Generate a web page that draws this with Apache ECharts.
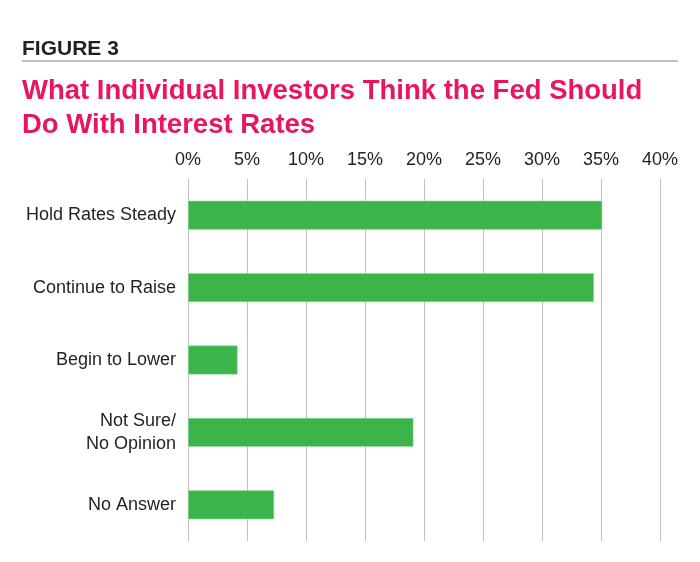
<!DOCTYPE html>
<html>
<head>
<meta charset="utf-8">
<script src="https://cdn.jsdelivr.net/npm/echarts@6/dist/echarts.min.js"></script>
<style>
  html, body { margin: 0; padding: 0; background: #fff; }
  #chart { width: 700px; height: 562px; }
</style>
</head>
<body>
<div id="chart"></div>
<script>
// Figure 3 — horizontal bar chart of Fed rate expectations

const categories = ['Hold Rates Steady', 'Continue to Raise', 'Begin to Lower', 'Not Sure/\nNo Opinion', 'No Answer'];
const values = [35.1, 34.4, 4.2, 19.1, 7.3];

const FONT = '"Liberation Sans Narrow", "Arial Narrow", "Liberation Sans", Arial, sans-serif';

const chart = echarts.init(document.getElementById('chart'));

const option = {
    animation: false,
    backgroundColor: '#fff',
    title: [
        {
            text: 'FIGURE 3',
            left: 22,
            top: 39,
            padding: 0,
            textStyle: { fontFamily: FONT, fontSize: 21, fontWeight: 'bold', color: '#231f20' }
        },
        {
            text: 'What Individual Investors Think the Fed Should\nDo With Interest Rates',
            left: 22,
            top: 74,
            padding: 0,
            textStyle: { fontFamily: FONT, fontSize: 27.5, fontWeight: 'bold', color: '#e8175d', lineHeight: 34 }
        }
    ],
    graphic: [
        {
            type: 'line',
            shape: { x1: 22, y1: 61, x2: 678, y2: 61 },
            style: { stroke: '#a7a9ac', lineWidth: 1.5 }
        }
    ],
    grid: { left: 188, right: 40, top: 179, bottom: 21, containLabel: false },
    xAxis: {
        type: 'value',
        position: 'top',
        min: 0,
        max: 40,
        interval: 5,
        axisLine: { show: false },
        axisTick: { show: false },
        axisLabel: {
            formatter: '{value}%',
            fontFamily: FONT,
            fontSize: 18,
            color: '#231f20',
            margin: 10
        },
        splitLine: { show: true, lineStyle: { color: '#bcbec0', width: 1 } }
    },
    yAxis: {
        type: 'category',
        inverse: true,
        data: categories,
        axisLine: { show: false },
        axisTick: { show: false },
        axisLabel: {
            fontFamily: FONT,
            fontSize: 18,
            color: '#231f20',
            margin: 12,
            lineHeight: 23
        }
    },
    series: [
        {
            type: 'bar',
            data: values,
            barWidth: 29,
            itemStyle: { color: '#3bb54a', borderColor: '#9ed9a5', borderWidth: 0.6 }
        }
    ]
};

chart.setOption(option);
</script>
</body>
</html>
